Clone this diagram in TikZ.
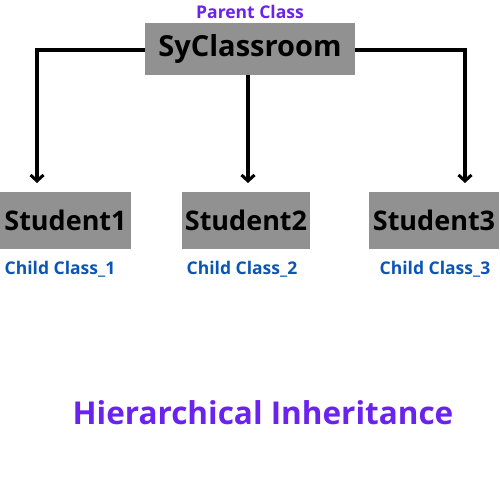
\documentclass[tikz,border=0pt]{standalone}
\usepackage{fontspec}
\setmainfont{Open Sans}
\usetikzlibrary{arrows.meta}
\definecolor{boxgray}{HTML}{919191}
\definecolor{purp}{HTML}{6A22EE}
\definecolor{childblue}{HTML}{0B55B5}
\begin{document}
\begin{tikzpicture}[x=1pt,y=-1pt,
  cls/.style={fill=boxgray,draw=none,inner sep=0pt,font=\fontsize{27}{32}\selectfont\bfseries},
  lbl/.style={inner sep=0pt,font=\fontsize{17.5}{21}\selectfont\bfseries,text=childblue},
  conn/.style={line width=3.5pt,-{Straight Barb[length=6pt,width=13pt,line width=3pt]}}]
\useasboundingbox[fill=white] (0,0) rectangle (500,500);
\node[cls,minimum width=210pt,minimum height=52pt,font=\fontsize{29}{34}\selectfont\bfseries] (p) at (250,49) {SyClassroom};
\node[cls,minimum width=131pt,minimum height=57pt] (s1) at (65.5,220.5) {Student1};
\node[cls,minimum width=128pt,minimum height=57pt] (s2) at (246,220.5) {Student2};
\node[cls,minimum width=130pt,minimum height=57pt] (s3) at (434,220.5) {Student3};
\node[inner sep=0pt,font=\fontsize{17.5}{21}\selectfont\bfseries,text=purp] (pc) at (250,12) {Parent Class};
\node[lbl] (c1) at (60,269) {Child Class\_1};
\node[lbl] (c2) at (242,269) {Child Class\_2};
\node[lbl] (c3) at (435,269) {Child Class\_3};
\node[inner sep=0pt,font=\fontsize{31.5}{36}\selectfont\bfseries,text=purp] (t) at (263,413) {Hierarchical Inheritance};
\coordinate (l) at (37,50);
\coordinate (r) at (465,50);
\draw[conn] (p.west |- l) -- (l) -- (37,183);
\draw[conn] (p.east |- r) -- (r) -- (465,183);
\draw[conn] (248,75) -- (248,183);
\end{tikzpicture}
\end{document}
